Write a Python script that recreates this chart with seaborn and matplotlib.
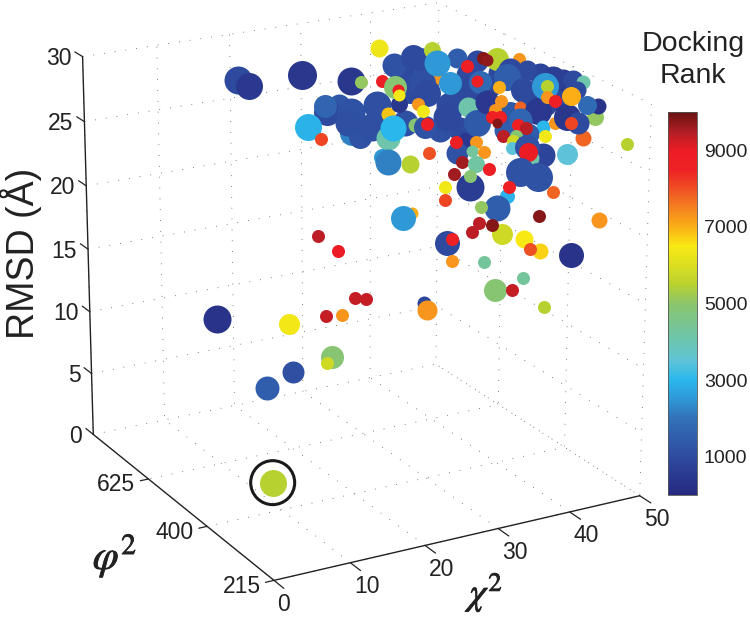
import numpy as np
import seaborn as sns
import matplotlib
matplotlib.use('Agg')
import matplotlib.pyplot as plt
import matplotlib.patheffects as pe
from matplotlib.cm import ScalarMappable
from matplotlib.colors import Normalize
from mpl_toolkits.mplot3d import proj3d

sns.set_style('white')
plt.rcParams['font.family'] = ['Liberation Sans', 'DejaVu Sans']
plt.rcParams['mathtext.fontset'] = 'stix'
plt.rcParams['grid.color'] = '#555555'
plt.rcParams['grid.linestyle'] = (0, (1, 12))
plt.rcParams['grid.linewidth'] = 0.6

### data, in drawing order (later points sit on top)
chi_sq = [32.3,43.7,43.2,42.2,40.0,25.0,44.2,
    36.6,37.3,39.5,35.3,42.3,41.4,44.0,38.6,47.4,16.2,
    16.1,23.3,30.1,31.5,35.8,36.2,38.9,39.9,23.3,24.8,
    20.7,20.7,25.0,26.1,26.6,24.4,30.2,27.7,31.7,28.1,
    30.6,33.3,32.7,34.5,34.9,33.3,27.3,28.1,31.2,33.7,
    43.4,40.3,45.2,44.2,47.1,45.1,45.7,42.8,46.3,45.1,
    47.5,38.3,37.2,41.4,38.6,38.2,42.3,42.3,35.1,35.9,
    34.8,35.4,33.8,39.2,37.2,35.8,38.6,42.8,42.4,44.7,
    43.6,41.9,41.2,41.9,41.1,40.7,41.8,39.5,45.0,42.6,
    43.2,40.7,41.9,41.8,40.4,41.6,40.2,38.4,40.7,39.8,
    39.6,42.2,42.0,40.2,41.7,41.9,43.3,40.8,41.4,45.5,
    47.5,46.6,47.2,48.0,49.4,46.6,46.1,46.4,44.4,45.5,
    43.6,43.2,45.0,47.5,46.0,44.8,45.7,43.8,35.7,36.6,
    37.9,37.7,36.6,36.6,38.4,35.4,37.7,37.7,36.1,36.1,
    39.0,39.3,43.5,39.6,37.4,41.6,45.9,31.5,30.2,37.1,
    38.1,38.4,38.9,41.5,41.8,40.4,44.2,36.4,35.3,35.3,
    37.9,41.5,39.5,40.0,42.5,33.3,33.7,25.1,23.6,18.6,
    21.3,19.6,21.8,8.1,14.5,20.4,19.7,15.0,11.5,5.5]
phi_deg = [23,22,24,17,23,24,19,
    25,26,25,22,22,23,20,19,21,27,
    26,26,26,26,27,26,26,26,24,25,
    24,23,23,23,24,23,24,23,24,22,
    23,24,25,25,25,24,22,22,22,23,
    27,25,26,24,24,24,24,24,22,22,
    22,25,24,24,23,23,26,25,23,24,
    23,23,22,22,21,21,21,23,23,22,
    22,22,20,21,21,21,21,20,21,20,
    19,19,18,19,19,19,19,19,19,19,
    19,18,18,18,19,19,17,19,18,17,
    15,19,20,19,19,18,20,20,19,19,
    18,17,16,17,17,17,18,17,21,20,
    21,20,21,20,20,21,21,21,22,22,
    19,19,18,20,20,18,16,22,22,20,
    21,19,20,19,18,18,17,22,21,21,
    20,19,20,19,18,22,22,22,22,22,
    22,22,22,24,22,22,22,22,22,18]
rmsd = [25.7,29.0,27.9,29.8,24.5,27.2,28.2,
    26.8,27.6,27.7,25.4,28.2,26.6,28.0,26.8,29.1,28.3,
    28.4,28.6,27.5,27.3,29.1,28.2,28.6,28.3,26.8,26.6,
    25.9,25.6,25.6,25.2,26.5,26.4,26.7,25.8,25.9,25.5,
    25.5,26.5,27.8,27.2,26.9,27.2,24.1,23.7,23.2,25.4,
    28.3,27.4,28.0,28.9,28.8,29.0,28.8,28.6,29.9,29.1,
    28.9,27.2,27.0,26.9,26.4,25.6,27.9,26.8,25.1,26.3,
    26.4,25.3,23.8,26.8,24.8,24.2,26.2,27.9,28.0,28.6,
    28.0,27.0,27.3,27.6,27.0,26.5,26.4,26.7,28.1,27.6,
    27.8,27.3,27.2,26.2,27.0,26.6,26.2,26.3,25.7,25.8,
    25.3,26.5,25.1,25.1,25.2,24.8,25.6,23.4,23.5,26.6,
    27.1,29.8,29.4,29.7,29.4,29.6,28.9,28.8,28.7,28.3,
    27.4,28.4,28.8,28.8,29.0,27.8,29.2,27.9,25.0,25.5,
    24.1,24.6,23.4,23.8,23.3,22.6,21.4,22.2,21.0,20.0,
    21.7,22.4,22.2,20.2,20.5,20.5,21.0,19.4,19.2,19.3,
    17.9,18.9,18.9,18.2,17.8,18.1,17.9,16.6,17.6,15.9,
    16.2,15.2,13.8,14.4,13.4,12.2,11.6,13.4,13.6,19.0,
    17.5,12.7,12.5,12.4,12.6,9.4,9.0,8.8,8.0,4.2]
docking_rank = [1100,1000,1000,900,1000,1300,800,
    1000,1000,1100,1100,1000,900,1000,1500,800,
    1000,500,400,400,5100,6300,1200,1000,1000,1000,
    1700,2900,8100,2200,1200,1200,1100,1100,1100,6800,
    4100,3000,400,8800,4900,8800,6400,2500,2200,5500,
    4900,5500,7300,1500,1000,5500,9800,9700,8800,7300,
    900,1000,1100,1000,1000,1000,900,2500,2500,1200,
    7300,6400,8800,8000,4100,500,1200,1400,1800,8700,
    1500,7000,500,1400,7300,7300,8700,8700,9800,1000,
    7800,500,1700,3000,1500,8700,9400,4900,9400,9800,
    5800,3500,6400,800,4100,1200,9000,3500,1200,1200,
    7800,5500,600,700,1000,4100,1000,2500,5500,7300,
    8800,7300,400,5100,300,1800,1000,7000,8100,8800,
    7300,4300,7300,9600,4200,8800,9600,600,4900,6400,
    8100,2900,8700,7800,1500,5100,9800,7300,7000,2500,
    9400,9400,5800,9800,6500,6700,8000,300,1000,8700,
    7300,4300,4300,4900,9300,5500,800,7300,9300,9300,
    9400,9000,9300,7300,300,6400,4900,5800,1100,1500,5500]
score = [26,24,26,25,24,22,24,
    27,25,26,24,24,26,24,22,22,28,27,29,28,13,18,24,25,25,27,23,27,13,25,23,28,26,28,28,14,24,
    26,17,13,23,12,12,17,26,18,14,17,13,20,22,23,13,12,13,13,24,20,27,27,26,28,28,26,23,23,13,
    13,13,13,20,22,22,27,23,12,27,13,24,23,13,13,13,13,10,25,12,27,24,14,22,13,13,13,13,10,13,
    13,13,24,18,25,19,21,29,29,16,13,22,24,20,14,18,27,13,13,13,13,27,17,16,19,22,19,13,13,13,
    12,13,13,17,13,13,28,13,13,13,15,13,13,26,13,13,16,12,25,13,13,21,13,18,16,13,25,25,13,13,
    13,13,23,13,13,14,20,13,13,13,13,13,13,28,21,23,13,22,24,27]

chi_ticks = [0, 10, 20, 30, 40, 50]
phi_ticks = [14.66, 20, 25]
phi_tick_labels = ['215', '400', '625']
rmsd_ticks = [0, 5, 10, 15, 20, 25, 30]
rank_ticks = [1000, 3000, 5000, 7000, 9000]
rank_minor_ticks = [2000, 4000, 6000, 8000]
# one colour every 500 ranks
rank_colors = ['#262a80', '#2a3a90', '#2e4b9f', '#305eac', '#3272b9', '#2e98d6', '#2ab8ec',
               '#5fc3d8', '#6cc5b0', '#79c58e', '#8cc56c', '#b8d130', '#dcde1f', '#f8ea15',
               '#fbb016', '#f58220', '#ef5023', '#ee2224', '#ed1c24', '#b01e24', '#6a1312']

text_color = '#222222'
cmap = sns.blend_palette(rank_colors, as_cmap=True)
norm = Normalize(0, 10000)

fig = plt.figure(figsize=(7.5, 6.18), dpi=100)
ax = fig.add_subplot(projection='3d', computed_zorder=False)
ax.set_position([7.2/750, -11.6/618, 688.7/750, 688.7/618])
ax.set_xlim(0, 50, view_margin=0)
ax.set_ylim(14.66, 30, view_margin=0)
ax.set_zlim(0, 30, view_margin=0)
ax.view_init(20.178, -118.825)
ax.set_proj_type('persp', focal_length=0.949)
ax.set_box_aspect((1, 0.989, 0.995))

# one call per point, the collection would sort them by depth otherwise
for i in range(len(chi_sq)):
    ax.scatter([chi_sq[i]], [phi_deg[i]], [rmsd[i]], c=[docking_rank[i]], cmap=cmap, norm=norm,
               s=(score[i]*0.72)**2, linewidths=0, depthshade=False, zorder=10+i)
# ring around the native-like pose
ax.scatter([chi_sq[-1]], [phi_deg[-1]], [rmsd[-1]], s=(44*0.72)**2, facecolors='none',
           edgecolors='#1a1a1a', linewidths=2.2, depthshade=False, zorder=500)

for axis in (ax.xaxis, ax.yaxis, ax.zaxis):
    axis.set_pane_color((1, 1, 1, 0))
    axis.pane.set_edgecolor('none')
    axis.line.set_color(text_color)
    axis.line.set_linewidth(1)
    axis._axinfo['tick']['inward_factor'] = 0.0
    axis._axinfo['tick']['outward_factor'] = 0.0
ax.set_xticks(chi_ticks)
ax.set_yticks(phi_ticks)
ax.set_zticks(rmsd_ticks)
ax.set_xticklabels([])
ax.set_yticklabels([])
ax.set_zticklabels([])

M = ax.get_proj()

def tick_label(x, y, z, txt, dx, dy, ha):
    u, v, _ = proj3d.proj_transform(x, y, z, M)
    ax.annotate(txt, xy=(u, v), xycoords='data', xytext=(dx, dy), textcoords='offset pixels',
                ha=ha, va='center', fontsize=16.5, color=text_color, annotation_clip=False)

tick_kw = dict(color=text_color, lw=0.9, zorder=1)
for t in chi_ticks:
    ax.plot([t, t], [14.66, 13.9], [0, 0], **tick_kw)
    tick_label(t, 14.66, 0, str(t), 10 if t == 0 else 17, -24, 'center')
for t, lab in zip(phi_ticks, phi_tick_labels):
    ax.plot([0, -1.1], [t, t], [0, 0], **tick_kw)
    tick_label(0, t, 0, lab, -13, -6, 'right')
for t in rmsd_ticks:
    ax.plot([0, 0], [30, 30.7], [t, t], **tick_kw)
    tick_label(0, 30, t, str(t), -11, -2, 'right')

stroke = [pe.withStroke(linewidth=0.6, foreground=text_color)]
fig.text(21/750, 1-253/618, 'RMSD (Å)', rotation=90, fontsize=27, ha='center', va='center', color=text_color)
fig.text(488/750, 1-592/618, r'$\chi^2$', fontsize=27, ha='center', va='center', color=text_color, path_effects=stroke)
fig.text(115/750, 1-556/618, r'$\varphi^2$', fontsize=30, ha='center', va='center', color=text_color, path_effects=stroke)
fig.text(693/750, 1-60/618, 'Docking\nRank', fontsize=20.5, ha='center', va='center', linespacing=1.3, color=text_color)

cax = fig.add_axes([668/750, 1-495/618, 29/750, 383/618])
cb = fig.colorbar(ScalarMappable(norm=norm, cmap=cmap), cax=cax, ticks=rank_ticks)
cax.set_yticks(rank_minor_ticks, minor=True)
cax.tick_params(which='both', labelsize=14, direction='in', length=3, width=0.6, left=True, right=True, pad=5, colors=text_color)
cb.outline.set_linewidth(0.6)
cb.outline.set_edgecolor('#555555')

plt.savefig('out.png')
